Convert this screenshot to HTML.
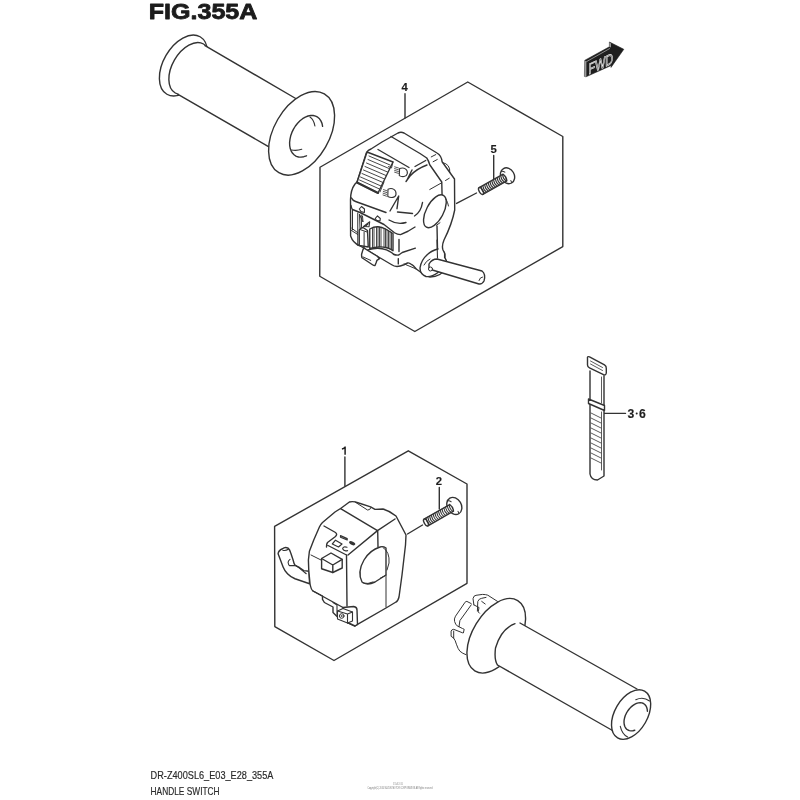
<!DOCTYPE html>
<html><head><meta charset="utf-8">
<style>
html,body{margin:0;padding:0;background:#fff;width:800px;height:800px;overflow:hidden}
svg{position:absolute;left:0;top:0}
svg{filter:grayscale(1)}
.t{font-family:"Liberation Sans",sans-serif}
</style></head><body>
<svg width="800" height="800" viewBox="0 0 800 800">
<g fill="none" stroke="#333" stroke-width="1.4" stroke-linejoin="round" stroke-linecap="round">
<!-- title -->
<text x="148.8" y="18.9" class="t" font-size="22.3" font-weight="bold" fill="#1c1c1c" stroke="#1c1c1c" stroke-width="0.8" transform="translate(149.5 0) scale(1.125 1) translate(-149.5 0)">FIG.355A</text>

<!-- upper hexagon -->
<polygon points="467.75,82 562.8,136.5 562.8,246.6 414.8,331.5 319.75,276.25 320,167.25"/>
<!-- lower hexagon -->
<polygon points="408.3,450.8 467,484 467,583.3 334,660.5 274.8,626.6 274.6,526.4"/>

<!-- upper grip -->
<g fill="#fff">
<ellipse cx="183.5" cy="65.5" rx="33.2" ry="20.2" transform="rotate(-60 183.5 65.5)"/>
<ellipse cx="189.4" cy="68.5" rx="28.3" ry="17.2" transform="rotate(-60 189.4 68.5)"/>
<path d="M205,45.6 L296.6,99 L268.5,146.6 L178,94.4 Z" stroke="none"/>
<path d="M205,45.6 L296.6,99 M178,94.4 L268.5,146.6"/>
<ellipse cx="301.6" cy="133.3" rx="45.5" ry="27.6" transform="rotate(-60 301.6 133.3)"/>
<path fill="none" d="M306.5,155.8 L303.8,156.7 L301.1,157.1 L298.6,157.0 L296.3,156.3 L294.3,155.0 L292.6,153.3 L291.2,151.1 L290.2,148.5 L289.7,145.6 L289.6,142.5 L290.0,139.2 L290.7,135.8 L291.9,132.4 L293.5,129.1 L295.4,126.0 L297.6,123.2 L300.0,120.7 L302.6,118.7 L305.3,117.1 L308.0,116.0 L310.7,115.5 L313.2,115.5 L315.6,116.1 L317.7,117.2 L319.5,118.8 L320.9,120.9 L322.0,123.4 L322.6,126.3"/>
<path fill="none" stroke-width="1.1" d="M310,117 Q314,120 314.9,126 M291.5,150 Q297,151 301.75,149.25"/>
</g>


<!-- labels -->
<g fill="#1e1e1e" stroke="#1e1e1e" stroke-width="0.15" font-size="11.3" font-weight="bold" class="t">
<text x="401.6" y="91">4</text>
<text x="490.6" y="153.1">5</text>

<text x="435.8" y="484.5">2</text>
<text x="627.4" y="417.9" font-size="12.2">3</text>
<text x="638.9" y="417.9" font-size="12.2">6</text>
</g>
<circle cx="636.7" cy="413.6" r="1" fill="#222" stroke="none"/>
<path d="M345.1,446.6 V454.7 M345.1,446.8 Q344.2,448.6 341.9,448.9" stroke="#1e1e1e" stroke-width="1.5" fill="none" stroke-linecap="butt"/>
<!-- leader lines -->
<path d="M405,93.7 V118 M493.7,155.4 V179.5 M476.5,193 L456.6,203.4 M344.9,457 V486 M439.3,487.5 V509 M422.5,525 L407.5,534 M603.5,413.4 H625.5"/>

<!-- screws -->
<g transform="translate(481 191) rotate(-29.3)">
<g fill="#fff">
<ellipse cx="30.6" cy="-0.3" rx="6.7" ry="8.3"/>
<path d="M27.400000000000002,-7.300000000000001 q1.8,0.6 2.6,2.6 M31.1,5.500000000000001 q0.3,1 -0.4,2" fill="none" stroke-width="1"/>
<path d="M0,-3.8 H27.5 V3.8 H0 Z" stroke="none"/>
<path d="M0,-3.8 H27.5 M0,3.8 H27.5 M27.5,-3.8 q1.8,3.8 0,7.6" fill="none"/>
<ellipse cx="0" cy="0" rx="1.8" ry="3.8"/>
<path stroke="#333" d="M2.2,-3.8 q-1.6,3.8 0,7.6 M4.2,-3.8 q-1.6,3.8 0,7.6 M6.3,-3.8 q-1.6,3.8 0,7.6 M8.3,-3.8 q-1.6,3.8 0,7.6 M10.4,-3.8 q-1.6,3.8 0,7.6 M12.4,-3.8 q-1.6,3.8 0,7.6 M14.5,-3.8 q-1.6,3.8 0,7.6 M16.5,-3.8 q-1.6,3.8 0,7.6 M18.6,-3.8 q-1.6,3.8 0,7.6 M20.6,-3.8 q-1.6,3.8 0,7.6 M22.7,-3.8 q-1.6,3.8 0,7.6 M24.7,-3.8 q-1.6,3.8 0,7.6 M26.8,-3.8 q-1.6,3.8 0,7.6" stroke-width="1" fill="none"/>
</g>
</g>
<g transform="translate(426 522.5) rotate(-29.8)">
<g fill="#fff">
<ellipse cx="32.8" cy="-0.3" rx="7" ry="9"/>
<path d="M29.599999999999998,-8 q1.8,0.6 2.6,2.6 M33.3,6.2 q0.3,1 -0.4,2" fill="none" stroke-width="1"/>
<path d="M0,-3.8 H29.5 V3.8 H0 Z" stroke="none"/>
<path d="M0,-3.8 H29.5 M0,3.8 H29.5 M29.5,-3.8 q1.8,3.8 0,7.6" fill="none"/>
<ellipse cx="0" cy="0" rx="1.8" ry="3.8"/>
<path stroke="#333" d="M2.2,-3.8 q-1.6,3.8 0,7.6 M4.2,-3.8 q-1.6,3.8 0,7.6 M6.3,-3.8 q-1.6,3.8 0,7.6 M8.3,-3.8 q-1.6,3.8 0,7.6 M10.4,-3.8 q-1.6,3.8 0,7.6 M12.4,-3.8 q-1.6,3.8 0,7.6 M14.5,-3.8 q-1.6,3.8 0,7.6 M16.5,-3.8 q-1.6,3.8 0,7.6 M18.6,-3.8 q-1.6,3.8 0,7.6 M20.6,-3.8 q-1.6,3.8 0,7.6 M22.7,-3.8 q-1.6,3.8 0,7.6 M24.7,-3.8 q-1.6,3.8 0,7.6 M26.8,-3.8 q-1.6,3.8 0,7.6 M28.8,-3.8 q-1.6,3.8 0,7.6" stroke-width="1" fill="none"/>
</g>
</g>
<!-- FWD arrow -->
<path d="M585,60.2 L609.4,46.8 L609.4,42 L623.8,49.3 L611,67.4 L611.2,65.5 L586,76.8 L584.8,76.5 Z" fill="#1e1e1e" stroke="#1e1e1e" stroke-width="0.6"/>
<path d="M584.6,60.4 L586.4,61.6 L586.4,76.6 L584.8,77 Z" fill="#9a9a9a" stroke="none"/>
<path d="M609.3,42.3 L611,43.5 L611,47.5 L609.3,46.8 Z" fill="#9a9a9a" stroke="none"/>
<path d="M586.6,61.6 L609.6,48.6" stroke="#bbb" stroke-width="0.7" fill="none"/>
<text x="0" y="0" transform="translate(588.6 74.6) skewY(-25)" font-size="15" class="t" fill="#1e1e1e" stroke="#f4f4f4" stroke-width="0.75" textLength="24.5" lengthAdjust="spacingAndGlyphs">FWD</text>
<!-- cable tie -->
<g fill="#fff">
<path d="M590,371 V474 Q591,480 597.5,480 L604,476 V375.6"/>
<path d="M587.5,358.5 Q587,356 589.5,356.8 L604.5,364.8 Q606.5,366 606.3,368.5 V373 Q606,375.5 603.5,374.6 L589.5,367.8 Q587.5,367 587.5,365 Z"/>
<path d="M590.5,361 L602.5,367.5 M590.5,364 L602.5,370.5" fill="none" stroke-width="0.8"/>
<path d="M588.5,399 L604.5,405.5 V410.5 L588.5,403.5 Z"/>
<path d="M601.5,377 V403" fill="none" stroke-width="0.8"/>
<path d="M591,413 L601,418 M591,418 L601,423 M591,423 L601,428 M591,428 L601,433 M591,433 L601,438 M591,438 L601,443 M591,443 L601,448 M591,448 L601,453 M591,453 L601,458 M591,458 L601,463" fill="none" stroke-width="0.8"/>
<path d="M601.5,412 V470" fill="none" stroke-width="0.8"/>
</g>

<!-- lower grip -->
<g fill="#fff">
<path d="M466,601.5 L490,596 L497.5,601.4 L480,616 L470,634 L466,655 Q459,651 456.4,644.2 L453.7,638.1 L451.1,636 L451.1,631 L454.6,621.5 Z" stroke="none"/>
<path fill="none" stroke-width="1" d="M473.9,604.9 L473,598.7 Q473.5,595.5 476,595.3 L482.6,594.4 Q486,594.5 487.8,595.2 L497.5,601.4 M477.4,611 L477.8,601.4 Q479,598.5 481.7,598.3 L486,597.4 M481.7,601.4 L485.2,604 M473.9,604.9 L479,607.5 L478.2,611.9 L479.5,613.2"/>
<path fill="none" stroke-width="1" d="M471.2,603.6 L466.9,601.4 Q465.5,601.5 465.1,602.2 L455.5,616.2 Q453.8,619 454.6,621.5 Q455.5,624.5 457.2,625.9 L462.5,628.5 L464.2,629.3 L463.4,632.8 M471.2,604.9 L459.9,620.6 L459,626.7"/>
<path fill="none" stroke-width="1" d="M462.5,632.8 L453.7,629.3 Q451.5,629.5 451.1,631.1 L451.1,636.3 L453.7,638.1 M453.7,631.1 V637.5 M453.7,638.1 Q455.5,640.5 456.4,644.2 Q458,649 459.9,651.2 Q462.5,653.5 466,654.7"/>
<ellipse cx="496.25" cy="635.75" rx="41.2" ry="23.4" transform="rotate(-58.6 496.25 635.75)"/>
<path d="M520,623 L637,689 L613.4,731 L497.5,665 Z" stroke="none"/>
<path d="M515,623.7 C506,627 499,636 495.5,648 C494.5,656 495.5,662 497.5,665 M520,623 L637,689 M497.5,665 L613.4,731" fill="none"/>
<ellipse cx="631.1" cy="714.55" rx="27" ry="16.4" transform="rotate(-60 631.1 714.55)"/>
<path fill="none" d="M634.8,730.2 L632.9,730.7 L631.1,730.9 L629.4,730.6 L627.9,730.0 L626.5,729.1 L625.5,727.8 L624.7,726.2 L624.2,724.3 L624.0,722.3 L624.1,720.1 L624.6,717.8 L625.3,715.5 L626.4,713.2 L627.7,711.0 L629.2,709.0 L630.9,707.1 L632.7,705.6 L634.6,704.3 L636.5,703.4 L638.4,702.9 L640.3,702.7 L642.0,702.9 L643.5,703.5 L644.8,704.5 L645.9,705.8 L646.7,707.4 L647.2,709.2 L647.4,711.3"/>
<path fill="none" stroke-width="1.1" d="M635.8,699.8 Q643,696.3 649.6,701 M620.3,726.3 Q622,734 627.6,737"/>
</g>


<!-- ===== upper switch (4) ===== -->
<g id="sw4">
<path fill="#fff" d="M398,133 Q401,131.5 404,133 L437,153 Q441.5,155.5 442.1,161.75 L454.5,179 L454.7,210 Q452,224 444,240 Q441.5,246 443,250 L445,254 L445,258 Q448,262 446,268 Q441,277 430,277 Q427,276.5 425,275.25 L416.25,269 Q413,265 411.9,264.75 Q409,262.5 407.5,263 L404,264.75 Q400,266.5 397,266.5 Q394,266.3 391.75,264.75 L376.9,256 L363.75,248 L359.25,245.5 Q353,243 350.6,236 L350.5,200 Q350.5,190 355,184 L357,182 L366.5,152.5 Q368,150 371,149 L382,142 Z"/>
<!-- top rim -->
<path fill="none" d="M391,136.5 L420,153.5 L426.75,158 Q428.5,160.5 429.75,164.75 L441.75,182 L442.1,196"/>
<path fill="none" d="M378,149.5 L409,167.5"/>
<path fill="none" stroke-width="1" d="M431.25,156.9 L435.75,154.6 M433.1,161.75 L437.25,159.5 M445.5,180.5 L449.25,178.25 M429.75,189.5 L441.75,182.75"/>
<path fill="none" stroke-width="1" d="M442.6,162.6 Q450.5,164 449.8,172.5"/>
<!-- rocker -->
<path fill="#fff" d="M367,152 L393,162 L378,193 L357,182.5 Z"/>
<path fill="none" stroke-width="2" d="M357,182.5 L378,193"/>
<path fill="none" stroke-width="0.9" d="M369,156 L390,165 M368,159.5 L389,168.5 M366.5,163 L387.5,172 M365,166.5 L386,175.5 M363.5,170 L384.5,179 M362,173.5 L383,182.5 M360.5,177 L381,186 M359.5,180 L379.5,189"/>
<path fill="none" stroke-width="0.9" d="M393,162 L391.5,168 L388.5,166.5 M380,192 L384,182"/>
<!-- headlight icons -->
<path fill="#fff" stroke-width="1.1" d="M399.6,168.6 C404,166.8 408,169.5 407.3,173.6 C406.6,177 402,177.3 399.3,175.6 Z"/>
<path fill="none" stroke-width="0.8" d="M394.6,166.8 L398.5,168 M394.6,168.6 L398.5,169.8 M394.6,170.4 L398.5,171.6 M394.6,172.2 L398.5,173.4"/>
<path fill="none" d="M427,165 Q416,169 410,176 L406,181.5 M412,170 L407,180 M415,166.5 L425.7,160.5"/>
<path fill="#fff" stroke-width="1.1" d="M388,189.2 C392.5,187.2 396.5,190 396,194.4 C395.5,197.8 391,198.3 387.8,196.5 Z"/>
<path fill="none" stroke-width="0.8" d="M383.5,189.6 L387,190.8 M383.3,191.4 L386.8,192.6 M383.1,193.2 L386.6,194.4 M383,195 L386.5,196.2"/>
<!-- ridge -->
<path fill="none" d="M390,211 L398.7,196 L397,208.7 M397.5,212 L412.5,213.5 M422.5,202.5 Q421,212 414.5,216 M389,220 Q397,225 406,222.5"/>
<!-- front face lines -->
<path fill="none" d="M351,205.5 Q351.5,208.5 352.5,209.5 L360,212.5 L384,224.5 L394.5,232.75 Q397.5,234.6 400.5,234.6 L408,231.25 L415,227"/>
<path fill="none" d="M351.5,198 Q352.5,200.5 355.6,201.5 L386,212.5"/>

<!-- arrow icons -->
<path fill="#fff" stroke-width="1.1" d="M359.3,209 L361.5,206.5 L364.5,209 L364.4,212.5 L361,211.6 Z M375.2,218.5 L377.5,215.9 L380.3,218.5 L380,221 L376.5,220.4 Z"/>
<!-- left lower section -->
<path fill="none" stroke-width="1" d="M357.75,213 V245.5 M352.5,209.5 V229.75 M351.75,228.25 L357.75,232.75 M351.5,230.5 L357.75,234.5 M359.5,214.5 L360,228 M361.2,215 L361.6,227.5 M359.5,214.5 L363,222 L362.5,216"/>
<path fill="none" stroke-width="1.1" d="M363.5,226.5 L369.7,221.8 L369,226.8 Z M366,225.8 L368,223.8"/>
<!-- button -->
<path fill="#fff" d="M359.25,230 Q360,228 363,227.5 L367.5,230.5 L368.25,247 L359.25,245.5 Z"/>
<path fill="none" stroke-width="1" d="M364.1,232 V248 M360,229.5 L367,232"/>
<!-- thumbwheel -->
<path fill="#fff" d="M369.75,229 Q374,226.5 378,226.75 Q382,227 385.5,229 L393,233.5 L393,250.75 Q390,248.5 387,247.75 Q382,246.5 378,247 Q373,247.5 369.75,248.5 Z"/>
<path fill="none" stroke-width="0.9" d="M372.5,228.5 V248 M374,228 V248 M376.5,227.3 V247.3 M378,227 V247 M379.5,227.1 V247 M381,227.4 V247 M384,228.3 V247.5 M385.5,229 V247.7 M387,229.8 V248 M388.5,230.7 V248.5 M390,231.6 V249 M391.5,232.5 V249.7"/>
<path fill="none" d="M368,249.9 Q378,246.5 386.5,249.9 Q392,252.5 393.5,254.25 Q396,255.5 398.75,255 L402.25,252.5 L415.4,248.1 M399,239.5 V251.5 M398.3,258.6 V263.9"/>
<path fill="none" stroke-width="1" d="M404,263.9 L416.25,269"/>
<!-- tab -->
<path fill="#fff" d="M362.9,249.9 L361.6,254.25 Q361.5,257 362,257.75 L372.5,264.75 Q374,265.8 375,265.6 L376,263 L376.9,260.4 L379.5,258.6 L376.9,256 L363.75,248 Z"/>
<path fill="none" stroke-width="1" d="M362.9,256.9 L370.75,260.4"/>
<!-- hole -->
<ellipse cx="434.9" cy="211.25" rx="8.6" ry="18" transform="rotate(28 434.9 211.25)" fill="#fff"/>
<path fill="none" stroke-width="1" d="M436.5,225.3 L440,222.7"/>
<path fill="none" stroke-width="1" d="M446,199 Q448,203 448.5,206"/>
<path fill="none" d="M437,226 L437.5,249"/>
<!-- collar / cable -->
<path fill="#fff" stroke="none" d="M438,249 Q431,251 428,254 Q421,260 420,268 Q420,274 426,276.5 Q431,277.5 438,272.5 L445,258 Z"/>
<path fill="none" d="M438,249 Q431,251 428,254 Q421,260 420,268 Q420,274 426,276.5 Q431,277.5 438,272.5"/>
<path fill="none" stroke-width="1" d="M424,265 Q426,261 430,259"/>
<path fill="#fff" d="M429,264 Q432,259 437,259 L482,271 Q486,274 484,281 Q482,284.5 479,284 L429,269 Z"/>
<path fill="none" stroke-width="1" d="M479,280.5 Q480,277 482.5,277"/>
<circle cx="430.5" cy="269" r="2" fill="#fff" stroke-width="1"/>
<path fill="none" stroke-width="1.1" d="M437,240 L437.5,258 M444.5,252 V258"/>
</g>


<!-- ===== lower switch (1) ===== -->
<g id="sw1">
<!-- lever -->
<path fill="#fff" d="M278.1,553.75 Q278.5,550.5 282.5,548.75 Q285,546.5 288.1,548.1 Q289.8,549.5 290.6,552.5 L293.1,560 Q294,564 295,565 Q297,566.5 299.4,567.5 L303.75,570.6 L309,571.25 L309.6,583.75 L295,578.75 Q290,576.5 287.5,573.75 Q284.5,570.5 283.1,566.9 L280,558.75 Z"/>
<path fill="none" stroke-width="1.1" d="M282.8,550.2 Q285.5,551 288.3,549.2 M290,559.4 Q288,561 288.1,562.5 Q288.5,565 289.4,565.6 L295,565.6 Q297.5,566.5 299.4,568.1 L306.25,573.75"/>
<!-- body silhouette -->
<path fill="#fff" d="M340.6,508.5 L349.4,502 Q353,500.8 358.7,503 L370.6,506.9 L375,509.4 L383,509 Q390,511 396,516 L406,535 L405.5,545 L402,575 L399,597 Q398,601 396,602 L386,608 L357.5,624.4 L355,626 L347.5,622.5 L337.5,617 L333,612.5 L333,607 L324.4,602.5 L322.5,599.4 L322.5,596 L313,591 Q311,589.5 310,583.75 L308.75,570 L308.4,560 L309.4,551.25 L313.75,540 L319.4,527 Q320.5,524.5 322.5,522.5 L335,512 Z"/>
<!-- lip -->
<path fill="none" stroke-width="1" d="M355,502 L367.5,510 Q370,510.5 371,507.5"/>
<!-- top face edges -->
<path fill="none" d="M340.6,508.7 L377.5,530.6 L395,519 M377.5,530.6 L348,555 M377.7,530.6 L378,547"/>
<!-- front panel -->
<path fill="none" d="M324,526 L335.5,532.5 Q337.8,534.2 335.5,536.5 L327.5,542.5 Q326.3,544 326.5,547 M328,545.5 L346.5,555 M346.5,555 L347,606 M313,591 L343,607.5"/>
<path fill="none" stroke-width="1" d="M311,555 L321,560"/>
<!-- icons -->
<path fill="none" stroke-width="1.2" d="M340.5,535.6 L347.2,538.6 L347.2,540 L340.5,537.2 Z"/>
<path fill="none" stroke-width="1.2" d="M335.5,540.2 L342,544 L338.5,547 L332.3,544 Z"/>
<ellipse cx="352.2" cy="543.2" rx="3.3" ry="1.7" transform="rotate(25 352.2 543.2)" fill="#333" stroke="none"/>
<path fill="none" stroke-width="1.1" d="M347,547.3 Q343.2,546 342.6,548.8 Q343.8,551.6 347.6,550.6"/>
<!-- button -->
<path fill="#fff" d="M321.6,558.5 L331,553 L342.2,559.4 L342.2,568 L332.8,572.5 L321.6,568.75 Z"/>
<path fill="none" d="M321.6,558.5 L332.8,565 L342.2,559.4 M332.8,565 L332.8,572.5"/>
<!-- hole -->
<path fill="#fff" d="M380,547 Q370,550 364,560 Q357,572 362,582 Q367,586 375,582 L386,575 L386,548 Q383,546 380,547 Z"/>
<path fill="none" stroke-width="1" d="M383,547.5 Q390,552 389,563 L387,570 M386,575 L386,607 M380.5,578 L384.5,576 M363,583 Q368,584.5 373,582"/>
<!-- connector -->
<path fill="#fff" d="M343,607.5 L353.7,606.5 Q357,607 357,610 L357.5,624.4 L355,626 L347.5,622.5 Z"/>
<path fill="#fff" stroke-width="1.1" d="M337.5,611 L343,608.5 L352.5,612 L352.5,621 L347.5,623 L337.5,619 Z"/>
<path fill="none" stroke-width="1.1" d="M337.5,611 L347.5,614 L352.5,612 M347.5,614 L347.5,623 M333,602.5 L337,605 L337,615"/>
<circle cx="341.7" cy="616" r="2.3" fill="#fff" stroke-width="1"/>
<circle cx="341.7" cy="616" r="1" fill="#555" stroke="none"/>
</g>

<!-- bottom text -->
<text x="150.6" y="778.7" font-size="11.6" class="t" fill="#2a2a2a" stroke="#2a2a2a" stroke-width="0.2" textLength="122.8" lengthAdjust="spacingAndGlyphs">DR-Z400SL6_E03_E28_355A</text>
<text x="150.6" y="794.7" font-size="11.6" class="t" fill="#2a2a2a" stroke="#2a2a2a" stroke-width="0.2" textLength="69" lengthAdjust="spacingAndGlyphs">HANDLE SWITCH</text>
<text x="367.5" y="789" font-size="3.6" class="t" fill="#777" stroke="none" textLength="65" lengthAdjust="spacingAndGlyphs">Copyright(C) 2016 SUZUKI MOTOR CORPORATION All Rights reserved</text>
<text x="393" y="785" font-size="3" class="t" fill="#999" stroke="none" textLength="10" lengthAdjust="spacingAndGlyphs">355A 2016</text>
</g>
</svg>
</body></html>
